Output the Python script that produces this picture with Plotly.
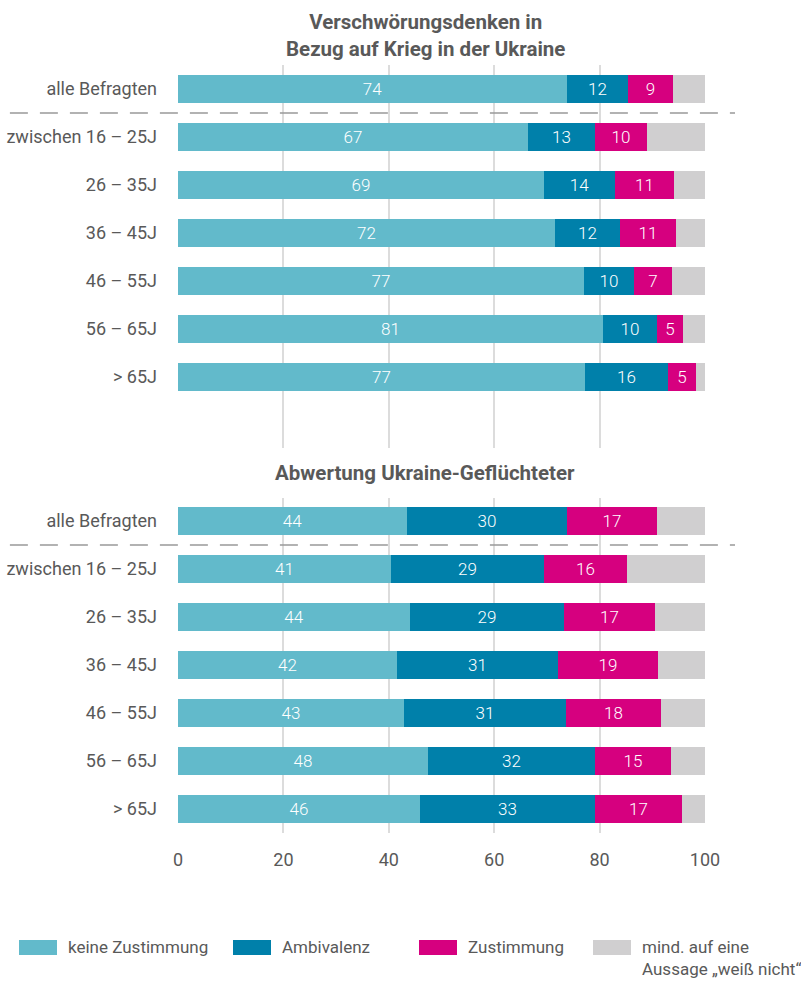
import plotly.graph_objects as go

FONT = "Roboto, 'Open Sans', sans-serif"
TXT = "#595959"

groups = ["alle Befragten", "zwischen 16 – 25J", "26 – 35J", "36 – 45J", "46 – 55J", "56 – 65J", "> 65J"]
title_top = "Verschwörungsdenken in<br>Bezug auf Krieg in der Ukraine"
title_bottom = "Abwertung Ukraine-Geflüchteter"

series_names = ["keine Zustimmung", "Ambivalenz", "Zustimmung", "mind. auf eine<br>Aussage „weiß nicht“"]
colors = ["#62bacb", "#0080aa", "#d6007f", "#d0cfd0"]

# Top block: Verschwörungsdenken
top_keine = [73.8, 66.4, 69.4, 71.5, 77.0, 80.6, 77.2]
top_ambi = [11.5, 12.7, 13.6, 12.3, 9.5, 10.3, 15.8]
top_zust = [8.7, 9.9, 11.1, 10.7, 7.2, 5.0, 5.2]
top_wn = [6.0, 11.0, 5.9, 5.5, 6.3, 4.1, 1.8]
top_keine_lbl = [74, 67, 69, 72, 77, 81, 77]
top_ambi_lbl = [12, 13, 14, 12, 10, 10, 16]
top_zust_lbl = [9, 10, 11, 11, 7, 5, 5]

# Bottom block: Abwertung Ukraine-Geflüchteter
bot_keine = [43.5, 40.4, 44.0, 41.6, 42.9, 47.5, 45.9]
bot_ambi = [30.4, 29.0, 29.2, 30.6, 30.7, 31.6, 33.2]
bot_zust = [17.0, 15.8, 17.4, 18.9, 18.1, 14.4, 16.5]
bot_wn = [9.1, 14.8, 9.4, 8.9, 8.3, 6.5, 4.4]
bot_keine_lbl = [44, 41, 44, 42, 43, 48, 46]
bot_ambi_lbl = [30, 29, 29, 31, 31, 32, 33]
bot_zust_lbl = [17, 16, 17, 19, 18, 15, 17]

x_ticks = [0, 20, 40, 60, 80, 100]

pos_top = list(range(0, 7))
pos_bot = list(range(9, 16))
ypos = pos_top + pos_bot

vals = [top_keine + bot_keine, top_ambi + bot_ambi, top_zust + bot_zust, top_wn + bot_wn]
lbls = [top_keine_lbl + bot_keine_lbl, top_ambi_lbl + bot_ambi_lbl, top_zust_lbl + bot_zust_lbl, None]

fig = go.Figure()
for i in range(4):
    fig.add_trace(go.Bar(
        y=ypos, x=vals[i], orientation="h", name=series_names[i],
        marker=dict(color=colors[i], line=dict(width=0)),
        width=0.57,
        text=[str(v) for v in lbls[i]] if lbls[i] else None,
        textposition="inside" if lbls[i] else "none",
        insidetextanchor="middle", textangle=0,
        textfont=dict(family=FONT, size=17, color="white", weight=300),
        hoverinfo="skip", showlegend=False,
    ))

fig.update_layout(
    barmode="stack", bargap=0,
    width=801, height=981,
    margin=dict(l=178, r=96, t=65, b=148, autoexpand=False),
    paper_bgcolor="white", plot_bgcolor="white",
    font=dict(family=FONT, color=TXT, size=18),
    uniformtext=dict(mode="show", minsize=17),
    xaxis=dict(range=[0, 100], tickvals=x_ticks, showgrid=True, gridcolor="#dcdcdc",
               gridwidth=2, zeroline=False, showline=False, ticks="", automargin=False,
               tickfont=dict(size=18, color=TXT), ticklabelstandoff=14, fixedrange=True),
    yaxis=dict(range=[15.5, -0.5], tickvals=ypos, ticktext=groups + groups,
               showgrid=False, zeroline=False, showline=False, ticks="", automargin=False,
               tickfont=dict(size=18, color=TXT), ticklabelstandoff=20, fixedrange=True),
)

# separators under "alle Befragten"
for yy in [0.5, 9.5]:
    fig.add_shape(type="line", xref="paper", yref="y", x0=-0.319, x1=1.057, y0=yy, y1=yy,
                  line=dict(color="#999999", width=1.5, dash="18px,12px"), layer="above")

# gap around second title (inner gridlines interrupted)
fig.add_shape(type="rect", xref="x", yref="y", x0=1, x1=99, y0=7.48, y1=8.52,
              fillcolor="white", line=dict(width=0), layer="above")

fig.add_annotation(text=title_top, xref="paper", yref="paper", x=0.469, y=(833 - 36) / 768,
                   showarrow=False, xanchor="center", yanchor="middle",
                   font=dict(family=FONT, size=20.5, color=TXT, weight="bold"))
fig.add_annotation(text=title_bottom, xref="paper", yref="y", x=0.469, y=8,
                   showarrow=False, xanchor="center", yanchor="middle",
                   font=dict(family=FONT, size=20.5, color=TXT, weight="bold"))

# manual legend
leg_x = [19, 233, 419, 593]
leg_tx = [66, 280, 466, 640]
for i in range(4):
    fig.add_shape(type="rect", xref="paper", yref="paper",
                  x0=(leg_x[i] - 178) / 527, x1=(leg_x[i] + 38 - 178) / 527,
                  y0=(833 - 955) / 768, y1=(833 - 940) / 768,
                  fillcolor=colors[i], line=dict(width=0))
    fig.add_annotation(text=series_names[i], xref="paper", yref="paper",
                       x=(leg_tx[i] - 178) / 527, y=(833 - 935) / 768,
                       showarrow=False, xanchor="left", yanchor="top", align="left",
                       font=dict(family=FONT, size=17, color=TXT))

fig.write_html("out.html", config={"displayModeBar": False},
               post_script="document.body.style.margin='0';")
